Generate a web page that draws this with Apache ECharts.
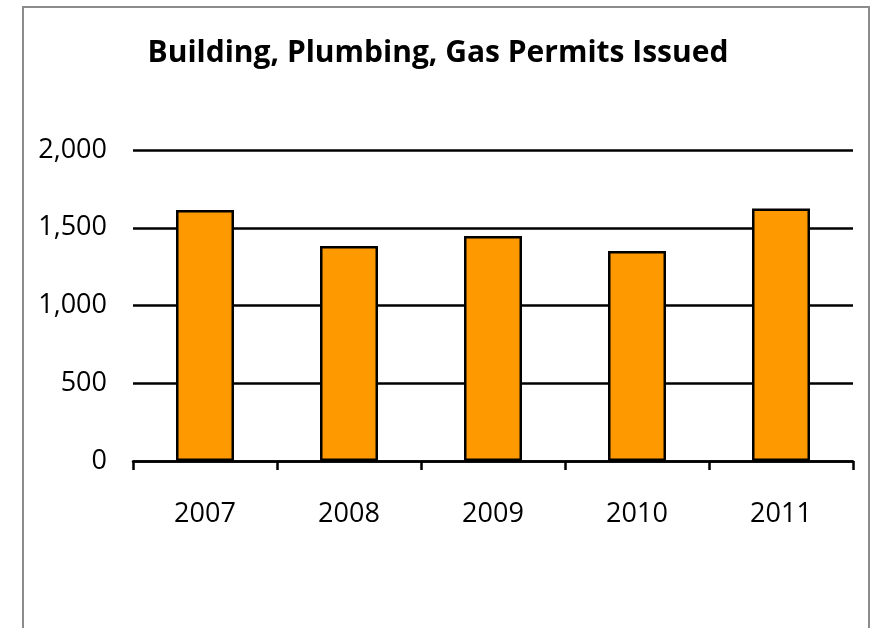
<!DOCTYPE html>
<html>
<head>
<meta charset="utf-8">
<script src="https://cdn.jsdelivr.net/npm/echarts@6/dist/echarts.min.js"></script>
<style>
  html, body { margin: 0; padding: 0; background: #fff; }
  #chart { width: 876px; height: 628px; }
</style>
</head>
<body>
<div id="chart"></div>
<script>
// 数据
var years = ['2007', '2008', '2009', '2010', '2011'];
var permits = [1614, 1383, 1447, 1350, 1623];
var yTicks = [0, 500, 1000, 1500, 2000];

var chart = echarts.init(document.getElementById('chart'));

var option = {
    animation: false,
    backgroundColor: '#fff',
    title: {
        text: 'Building, Plumbing, Gas Permits Issued',
        left: 'center',
        top: 33,
        textStyle: {
            fontFamily: 'Open Sans',
            fontWeight: 'bold',
            fontSize: 30,
            color: '#000'
        }
    },
    // 外边框
    graphic: [{
        type: 'rect',
        shape: { x: 23, y: 7, width: 846, height: 700 },
        style: { fill: 'none', stroke: '#8c8c8c', lineWidth: 2 },
        silent: true
    }],
    grid: {
        left: 133,
        right: 23,
        top: 150,
        bottom: 167
    },
    xAxis: {
        type: 'category',
        data: years,
        axisLine: { lineStyle: { color: '#000', width: 2.5 } },
        axisTick: { show: true, alignWithLabel: false, length: 9, lineStyle: { color: '#000', width: 2.5 } },
        axisLabel: {
            margin: 40,
            fontFamily: 'Open Sans',
            fontSize: 27,
            color: '#000'
        }
    },
    yAxis: {
        type: 'value',
        min: yTicks[0],
        max: yTicks[yTicks.length - 1],
        interval: 500,
        axisLine: { show: false },
        axisTick: { show: false },
        splitLine: { lineStyle: { color: '#000', width: 2.5 } },
        axisLabel: {
            margin: 26,
            fontFamily: 'Open Sans',
            fontSize: 27,
            color: '#000',
            formatter: function (v) {
                return v.toLocaleString('en-US');
            }
        }
    },
    series: [{
        type: 'bar',
        data: permits,
        barWidth: 58,
        itemStyle: {
            color: '#ff9900',
            borderColor: '#000',
            borderWidth: 2.5
        }
    }]
};

chart.setOption(option);
</script>
</body>
</html>
